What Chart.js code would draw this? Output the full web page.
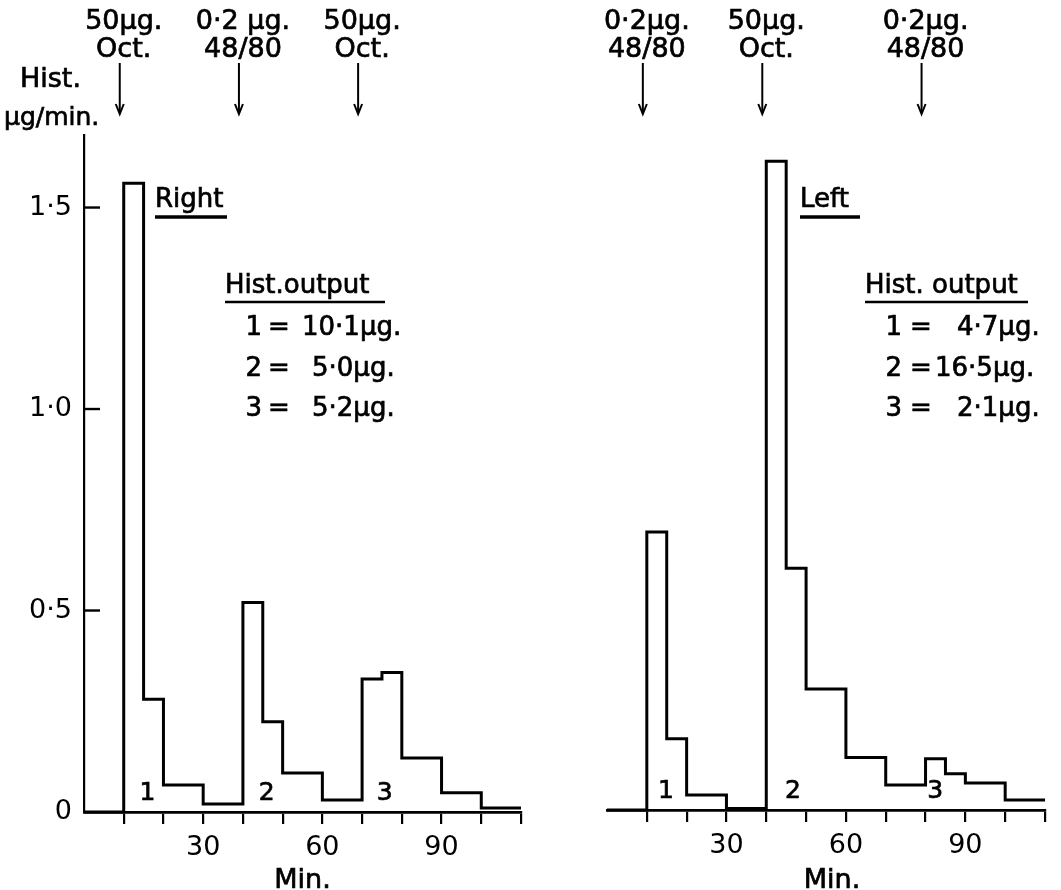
<!DOCTYPE html>
<html>
<head>
<meta charset="utf-8">
<script src="https://cdn.jsdelivr.net/npm/chart.js@4.4.1/dist/chart.umd.min.js"></script>
<style>
  html, body { margin: 0; padding: 0; background: #fff; }
  #wrap { position: relative; width: 1061px; height: 890px; }
  canvas { position: absolute; top: 0; }
  #cRight { left: 0; }
  #cLeft { left: 530px; }
</style>
</head>
<body>
<div id="wrap">
  <canvas id="cRight" width="530" height="890"></canvas>
  <canvas id="cLeft" width="531" height="890"></canvas>
</div>
<script>
// start of each collection period (min) and histamine output (µg/min) in it
const rightTimes  = [0, 10, 15, 20, 30, 40, 45, 50, 60, 70, 75, 80, 90, 100, 110];
const rightValues = [0, 1.56, 0.28, 0.067, 0.02, 0.52, 0.224, 0.097, 0.03, 0.33, 0.346, 0.134, 0.048, 0.01, 0.01];
const leftTimes   = [0, 10, 15, 20, 30, 40, 45, 50, 60, 70, 80, 85, 90, 100, 110];
const leftValues  = [0, 0.69, 0.177, 0.037, 0.004, 1.61, 0.6, 0.3, 0.13, 0.062, 0.127, 0.09, 0.067, 0.025, 0.025];

// injections
const rightDoseTimes = [9, 39, 69];
const rightDoses = [["50µg.", "Oct."], ["0·2 µg.", "48/80"], ["50µg.", "Oct."]];
const leftDoseTimes = [9, 39, 79];
const leftDoses = [["0·2µg.", "48/80"], ["50µg.", "Oct."], ["0·2µg.", "48/80"]];

// where the peak numbers 1,2,3 sit
const rightPeakTimes = [16, 46, 75.7];
const leftPeakTimes = [14.8, 46.7, 82.4];

const rightOutput = ["10·1µg.", "5·0µg.", "5·2µg."];
const leftOutput = ["4·7µg.", "16·5µg.", "2·1µg."];

const xLabels = [30, 60, 90];
const yTicks = [0, 0.5, 1.0, 1.5];

const FONT = "'DejaVu Sans', sans-serif";
Chart.defaults.font.family = FONT;
Chart.defaults.color = "#000";

function txt(ctx, s, x, y, size, align) {
  ctx.font = size + "px " + FONT;
  ctx.textAlign = align || "left";
  ctx.textBaseline = "alphabetic";
  ctx.lineWidth = 0.7;
  ctx.fillText(s, x, y);
  ctx.strokeText(s, x, y);
}

function line(ctx, x1, y1, x2, y2, w) {
  ctx.lineWidth = w;
  ctx.beginPath(); ctx.moveTo(x1, y1); ctx.lineTo(x2, y2); ctx.stroke();
}

const panelText = {
  id: "panelText",
  afterDraw(chart, args, o) {
    const ctx = chart.ctx, xs = chart.scales.x, ys = chart.scales.y;
    const base = ys.getPixelForValue(0);
    ctx.save();
    ctx.fillStyle = "#000";
    ctx.strokeStyle = "#000";

    o.doseTimes.forEach((t, i) => {
      const px = xs.getPixelForValue(t);
      txt(ctx, o.doses[i][0], px + 4, 29, 27, "center");
      txt(ctx, o.doses[i][1], px + 4, 57, 27, "center");
      line(ctx, px, 63, px, 113, 2);
      ctx.lineWidth = 2;
      ctx.beginPath(); ctx.moveTo(px - 4, 104); ctx.lineTo(px, 114); ctx.lineTo(px + 4, 104); ctx.stroke();
    });

    o.peakTimes.forEach((t, i) => txt(ctx, String(i + 1), xs.getPixelForValue(t), base - 12, 25, "center"));

    // inward ticks on the y axis
    if (ys.options.display) {
      ys.ticks.forEach(tk => {
        if (tk.value === 0) return;
        const py = ys.getPixelForValue(tk.value);
        line(ctx, ys.right, py, ys.right + 16, py, 2.4);
      });
      txt(ctx, "Hist.", 20, 87, 27);
      txt(ctx, "µg/min.", 4, 125, 25);
    }

    // side label, underlined
    txt(ctx, o.side, o.sideX, 207, 26);
    line(ctx, o.sideX, 217, o.sideX + o.sideW, 217, 3.5);

    txt(ctx, o.head, o.headX, 293, 26);
    line(ctx, o.headX, 302, o.headX + o.headW, 302, 2.4);
    const rows = [335, 376, 416];
    o.output.forEach((v, i) => {
      txt(ctx, String(i + 1), o.numX, rows[i], 26, "right");
      txt(ctx, "=", o.eqX, rows[i], 26);
      txt(ctx, v, o.valX[i], rows[i], 26);
    });

    txt(ctx, "Min.", xs.getPixelForValue(o.minAt), 888, 27, "center");
    ctx.restore();
  }
};

function makeChart(id, times, values, opts) {
  return new Chart(document.getElementById(id), {
    type: "line",
    data: {
      datasets: [{
        data: times.map((t, i) => ({ x: t, y: values[i] })),
        stepped: true,
        borderColor: "#000",
        borderWidth: 3,
        pointRadius: 0,
        fill: false,
        clip: 8,
        borderJoinStyle: "miter",
        borderCapStyle: "butt"
      }]
    },
    options: {
      responsive: false,
      animation: false,
      events: [],
      layout: { padding: opts.padding },
      plugins: { legend: { display: false }, tooltip: { enabled: false }, panelText: opts.text },
      scales: {
        x: {
          type: "linear", min: 0, max: 110,
          afterFit: s => { s.height = 78; },
          border: { display: true, color: "#000", width: 2.8 },
          grid: {
            display: true, drawOnChartArea: false, drawTicks: true, tickLength: 12, lineWidth: 2.2,
            color: c => (c.tick && c.tick.value === 0) ? "rgba(0,0,0,0)" : "#000"
          },
          ticks: {
            stepSize: 10, autoSkip: false, maxRotation: 0, padding: 8, color: "#000",
            font: { size: 27 },
            callback: v => xLabels.includes(v) ? String(v) : ""
          }
        },
        y: {
          display: opts.showY, min: 0, max: 1.68,
          afterFit: s => { s.width = opts.showY ? 84 : 0; },
          afterBuildTicks: s => { s.ticks = yTicks.map(v => ({ value: v })); },
          border: { display: true, color: "#000", width: 2.2 },
          grid: { display: true, drawOnChartArea: false, drawTicks: false },
          ticks: {
            padding: 12, color: "#000", font: { size: 27 },
            callback: v => v === 0 ? "0" : v.toFixed(1).replace(".", "·")
          }
        }
      }
    },
    plugins: [panelText]
  });
}

makeChart("cRight", rightTimes, rightValues, {
  showY: true,
  padding: { top: 135, right: 9, left: 0, bottom: 0 },
  text: {
    doseTimes: rightDoseTimes, doses: rightDoses, peakTimes: rightPeakTimes,
    side: "Right", sideX: 155, sideW: 72,
    head: "Hist.output", headX: 225, headW: 160,
    output: rightOutput, numX: 262, eqX: 268, valX: [302, 312, 312],
    minAt: 55
  }
});

makeChart("cLeft", leftTimes, leftValues, {
  showY: false,
  padding: { top: 133, right: 16, left: 77, bottom: 2 },
  text: {
    doseTimes: leftDoseTimes, doses: leftDoses, peakTimes: leftPeakTimes,
    side: "Left", sideX: 270, sideW: 60,
    head: "Hist. output", headX: 335, headW: 163,
    output: leftOutput, numX: 372, eqX: 380, valX: [427, 405, 427],
    minAt: 56.5
  }
});
</script>
</body>
</html>
